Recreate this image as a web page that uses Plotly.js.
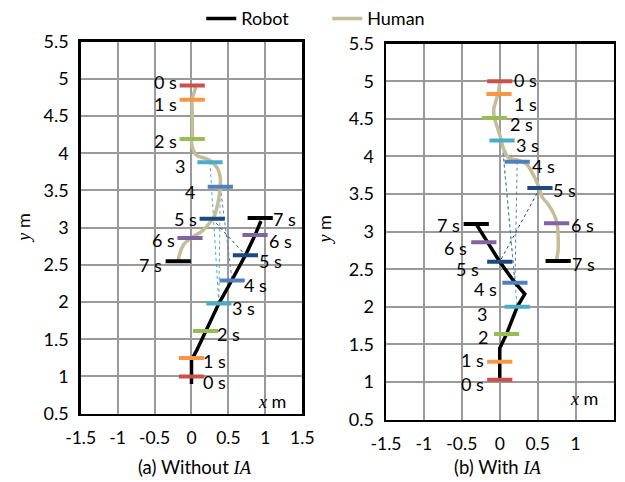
<!DOCTYPE html>
<html>
<head>
<meta charset="utf-8">
<script src="https://cdn.plot.ly/plotly-3.0.1.min.js"></script>
<style>
  html, body { margin: 0; padding: 0; background: #fff; }
  #chart { width: 625px; height: 482px; }
</style>
</head>
<body>
<div id="chart"></div>
<script>
// ---- Trajectories, panel (a): without IA ----
const humanA_x = [0.06, 0.03, 0.01, 0.01, 0.01, 0.00, 0.06, 0.24, 0.35, 0.39, 0.37, 0.31, 0.28, 0.15, 0.01, -0.10, -0.16, -0.18];
const humanA_y = [4.89, 4.80, 4.72, 4.51, 4.19, 4.15, 3.98, 3.91, 3.80, 3.67, 3.40, 3.16, 3.11, 2.96, 2.87, 2.78, 2.65, 2.55];
const robotA_x = [0.00, 0.00, 0.07, 0.19, 0.37, 0.55, 0.73, 0.86, 0.94];
const robotA_y = [0.90, 1.22, 1.35, 1.60, 1.98, 2.30, 2.63, 2.90, 3.09];

// positions at each whole second (0 s .. 7 s)
const humanA_tx = [0.01, 0.01, 0.01, 0.25, 0.39, 0.28, -0.02, -0.18];
const humanA_ty = [4.91, 4.72, 4.19, 3.88, 3.55, 3.12, 2.86, 2.55];
const robotA_tx = [0.00, 0.00, 0.19, 0.37, 0.55, 0.73, 0.86, 0.93];
const robotA_ty = [1.00, 1.25, 1.61, 1.98, 2.29, 2.63, 2.90, 3.13];

const humanA_labels = ["0 s", "1 s", "2 s", "3", "4", "5 s", "6 s", "7 s"];
const robotA_labels = ["0 s", "1 s", "2 s", "3 s", "4 s", "5 s", "6 s", "7 s"];
// [human second, robot second] pairs joined by dotted links
const linksA = [[3, 3], [4, 3], [4, 4], [5, 5]];

// ---- Trajectories, panel (b): with IA ----
const humanB_x = [0.00, -0.02, -0.05, -0.08, -0.07, -0.03, 0.02, 0.05, 0.12, 0.24, 0.35, 0.44, 0.52, 0.56, 0.64, 0.72, 0.76, 0.77, 0.77, 0.75];
const humanB_y = [4.98, 4.85, 4.74, 4.62, 4.51, 4.38, 4.22, 4.10, 3.98, 3.95, 3.90, 3.76, 3.58, 3.46, 3.36, 3.22, 3.08, 2.93, 2.76, 2.63];
const robotB_x = [0.00, 0.00, 0.09, 0.23, 0.33, 0.20, 0.00, -0.31];
const robotB_y = [1.03, 1.45, 1.64, 2.00, 2.17, 2.32, 2.60, 3.10];

const humanB_tx = [0.00, -0.01, -0.07, 0.03, 0.23, 0.53, 0.75, 0.77];
const humanB_ty = [5.00, 4.83, 4.51, 4.21, 3.93, 3.58, 3.11, 2.61];
const robotB_tx = [0.00, 0.00, 0.09, 0.23, 0.20, 0.00, -0.21, -0.31];
const robotB_ty = [1.03, 1.27, 1.64, 2.00, 2.32, 2.60, 2.86, 3.10];

const humanB_labels = ["0 s", "1 s", "2 s", "3 s", "4 s", "5 s", "6 s", "7 s"];
const robotB_labels = ["0 s", "1 s", "2", "3", "4 s", "5 s", "6 s", "7 s"];
const linksB = [[3, 3], [3, 4], [4, 4], [5, 5]];

// ---- Axis ticks ----
const xTickVals = [-1.5, -1, -0.5, 0, 0.5, 1, 1.5];
const xTickText = ["-1.5", "-1", "-0.5", "0", "0.5", "1", "1.5"];
const yTickVals = [0.5, 1, 1.5, 2, 2.5, 3, 3.5, 4, 4.5, 5, 5.5];
const yTickText = ["0.5", "1", "1.5", "2", "2.5", "3", "3.5", "4", "4.5", "5", "5.5"];

// ---- Styling ----
const secondColors = ["#c9504d", "#f79646", "#9bbb59", "#4bacc6", "#4f81bd", "#1f497d", "#8064a2", "#000000"];
const HUMAN = "#c4bd97";
const ROBOT = "#000000";
const FONT = "Lato, 'Open Sans', sans-serif";
const SERIF = "'Liberation Serif', 'DejaVu Serif', serif";

// label nudges in px: [xshift, yshift]
const nudgeHumanA = [[-14, 4], [-14, -4], [-14, -2], [-24, -4], [-24, -5], [-14, 0], [-14, -2], [-15, -4]];
const nudgeRobotA = [[11, -6], [11, -3], [10, -3], [12, -4], [11, -5], [13, -6], [13, -6], [12, -1]];
const nudgeHumanB = [[13, 1], [14, -10], [15, -6], [13, -4], [14, -4], [12, -2], [13, -2], [13, -3]];
const nudgeRobotB = [[-15, -4], [-15, 2], [-18, -3], [-29, -7], [-17, -6], [-20, -7], [-16, -6], [-15, -1]];

const traces = [];
const annotations = [];

function panel(ax, hx, hy, rx, ry, htx, hty, rtx, rty, hl, rl, links, hNudge, rNudge, hSide, rSide, first) {
  const xa = ax === 1 ? "x" : "x2";
  const ya = ax === 1 ? "y" : "y2";

  // dotted links between matching instants
  links.forEach(([h, r]) => {
    traces.push({
      x: [htx[h], rtx[r]], y: [hty[h], rty[r]], xaxis: xa, yaxis: ya,
      mode: "lines", showlegend: false, hoverinfo: "skip",
      line: { color: secondColors[r], width: 1, dash: "dot" }
    });
  });

  traces.push({
    x: rx, y: ry, xaxis: xa, yaxis: ya, name: "Robot", legendrank: 1,
    mode: "lines", showlegend: first, line: { color: ROBOT, width: 3.5 }
  });
  traces.push({
    x: hx, y: hy, xaxis: xa, yaxis: ya, name: "Human", legendrank: 2,
    mode: "lines", showlegend: first,
    line: { color: HUMAN, width: 3.5, shape: "spline", smoothing: 1 }
  });

  // time stamps drawn as short horizontal bars
  [[htx, hty], [rtx, rty]].forEach(([tx, ty]) => {
    traces.push({
      x: tx, y: ty, xaxis: xa, yaxis: ya, mode: "markers", showlegend: false,
      marker: { symbol: "line-ew", size: 18, line: { color: secondColors, width: 4 } }
    });
  });

  const addLabels = (tx, ty, labels, nudge, side) => {
    labels.forEach((t, i) => {
      annotations.push({
        x: tx[i], y: ty[i], xref: xa, yref: ya, text: t, showarrow: false,
        xanchor: side, yanchor: "middle", xshift: nudge[i][0], yshift: nudge[i][1],
        borderpad: 0,
        font: { family: FONT, size: 18, color: "#000" }
      });
    });
  };
  addLabels(htx, hty, hl, hNudge, hSide);
  addLabels(rtx, rty, rl, rNudge, rSide);
}

panel(1, humanA_x, humanA_y, robotA_x, robotA_y, humanA_tx, humanA_ty, robotA_tx, robotA_ty,
      humanA_labels, robotA_labels, linksA, nudgeHumanA, nudgeRobotA, "right", "left", true);
panel(2, humanB_x, humanB_y, robotB_x, robotB_y, humanB_tx, humanB_ty, robotB_tx, robotB_ty,
      humanB_labels, robotB_labels, linksB, nudgeHumanB, nudgeRobotB, "left", "right", false);

const xAxisBase = {
  range: [-1.5, 1.5], tickvals: xTickVals, ticktext: xTickText,
  showgrid: true, gridcolor: "#9a9a9a", gridwidth: 2, zeroline: false,
  showline: true, linecolor: "#000", linewidth: 2.5, mirror: true,
  ticks: "outside", ticklen: 7, tickcolor: "rgba(0,0,0,0)",
  tickfont: { family: FONT, size: 17.5, color: "#000" }, fixedrange: true
};
const yAxisBase = {
  range: [0.5, 5.5], tickvals: yTickVals, ticktext: yTickText,
  showgrid: true, gridcolor: "#9a9a9a", gridwidth: 2, zeroline: false,
  showline: true, linecolor: "#000", linewidth: 2.5, mirror: true,
  ticks: "outside", ticklen: 6, tickcolor: "rgba(0,0,0,0)",
  tickfont: { family: FONT, size: 18, color: "#000" }, fixedrange: true
};

const paperText = (x, y, text, size, extra) => Object.assign({
  x, y, xref: "paper", yref: "paper", text, showarrow: false,
  xanchor: "center", yanchor: "middle", borderpad: 0,
  font: { family: FONT, size, color: "#000" }
}, extra || {});

const it = (s) => `<span style="font-family:${SERIF.replace(/'/g, "")};font-style:italic">${s}</span>`;

annotations.push(
  paperText(0.0368, 0.531, `${it("y")} m`, 18, { textangle: -90 }),
  paperText(0.5184, 0.527, `${it("y")} m`, 18, { textangle: -90 }),
  paperText(0.4344, 0.170, `${it("x")} m`, 18),
  paperText(0.9344, 0.177, `${it("x")} m`, 18),
  paperText(0.312, 0.031, `(a) Without ${it("IA")}`, 18.5),
  paperText(0.797, 0.031, `(b) With ${it("IA")}`, 18.5)
);

const layout = {
  width: 625, height: 482,
  margin: { l: 0, r: 0, t: 0, b: 0 },
  paper_bgcolor: "#fff", plot_bgcolor: "#fff",
  showlegend: true,
  legend: {
    orientation: "h", x: 0.322, xanchor: "left", y: 1.01, yanchor: "top",
    font: { family: FONT, size: 18, color: "#000" },
    bgcolor: "rgba(0,0,0,0)", entrywidth: 81, entrywidthmode: "pixels",
    traceorder: "normal"
  },
  xaxis: Object.assign({}, xAxisBase, { domain: [0.1291, 0.4837], anchor: "y" }),
  yaxis: Object.assign({}, yAxisBase, { domain: [0.1432, 0.9232], anchor: "x" }),
  xaxis2: Object.assign({}, xAxisBase, { domain: [0.6176, 0.9816], anchor: "y2" }),
  yaxis2: Object.assign({}, yAxisBase, { domain: [0.1307, 0.9191], anchor: "x2" }),
  annotations
};

Plotly.newPlot("chart", traces, layout, { staticPlot: true, displayModeBar: false });
</script>
</body>
</html>
